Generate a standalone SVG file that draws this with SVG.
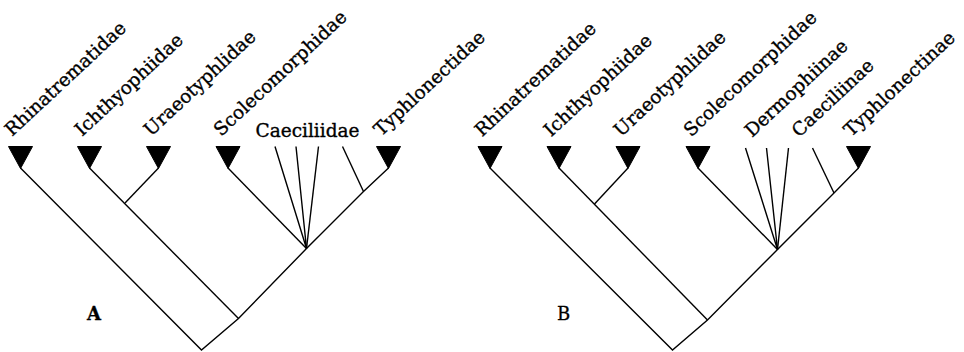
<svg xmlns="http://www.w3.org/2000/svg" width="964" height="352" viewBox="0 0 964 352">
<style>
.bg{fill:#fff}
.tri{fill:#000;stroke:#000;stroke-width:1}
.br{fill:none;stroke:#000;stroke-width:1.4;stroke-linejoin:miter}
.lab{font-family:"DejaVu Serif","Liberation Serif",serif;font-size:18.5px;fill:#000;stroke:#000;stroke-width:0.35}
.pl{font-family:"DejaVu Serif","Liberation Serif",serif;font-size:18px;fill:#000;stroke:#000;stroke-width:0.3}
</style>
<defs>
<polygon id="tri" points="-12,0 12,0 0,22"/>
</defs>
<rect class="bg" width="964" height="352"/>
<g id="treeA">
<g id="connectorsA">
<polyline class="br" points="20.5,168 201.5,350 238.5,318.5 306.5,248.5 363.5,191.5 388.5,168"/>
<polyline class="br" points="89.5,168 238.5,318.5"/>
<polyline class="br" points="158.5,168 125,203"/>
<polyline class="br" points="228,168 306.5,248.5"/>
<polyline class="br" points="275,146.5 306.5,248.5 296,146.5"/>
<polyline class="br" points="318.5,146.5 306.5,248.5"/>
<polyline class="br" points="342.5,146.5 363.5,191.5"/>
</g>
<g id="a-rhinatrematidae"><use href="#tri" class="tri" transform="translate(20.5,146.5)"/><text class="lab" transform="translate(12,137) rotate(-43)">Rhinatrematidae</text></g>
<g id="a-ichthyophiidae"><use href="#tri" class="tri" transform="translate(89.5,146.5)"/><text class="lab" transform="translate(82,137) rotate(-43)">Ichthyophiidae</text></g>
<g id="a-uraeotyphlidae"><use href="#tri" class="tri" transform="translate(151,146.5) translate(7.5,0)"/><text class="lab" transform="translate(151,137) rotate(-43)">Uraeotyphlidae</text></g>
<g id="a-scolecomorphidae"><use href="#tri" class="tri" transform="translate(228,146.5)"/><text class="lab" transform="translate(221,137) rotate(-43)">Scolecomorphidae</text></g>
<g id="a-caeciliidae"><text class="lab" x="255.5" y="136.5" textLength="104" lengthAdjust="spacingAndGlyphs">Caeciliidae</text></g>
<g id="a-typhlonectidae"><use href="#tri" class="tri" transform="translate(388.5,146.5)"/><text class="lab" transform="translate(381,137) rotate(-43)">Typhlonectidae</text></g>
<g id="label-a"><text class="pl" x="87" y="320" font-weight="bold">A</text></g>
</g>
<g id="treeB">
<g id="connectorsB">
<polyline class="br" points="490,168 672.5,350 707.5,320 777.5,249.5 834,193 858.5,168"/>
<polyline class="br" points="559,168 707.5,320"/>
<polyline class="br" points="628,168 594.5,204"/>
<polyline class="br" points="698,168 777.5,249.5"/>
<polyline class="br" points="745.5,148 777.5,249.5 766.5,148"/>
<polyline class="br" points="788.5,148 777.5,249.5"/>
<polyline class="br" points="812.5,148 834,193"/>
</g>
<g id="b-rhinatrematidae"><use href="#tri" class="tri" transform="translate(490,146.5)"/><text class="lab" transform="translate(482,137.5) rotate(-43)">Rhinatrematidae</text></g>
<g id="b-ichthyophiidae"><use href="#tri" class="tri" transform="translate(559,146.5)"/><text class="lab" transform="translate(551,137.5) rotate(-43)">Ichthyophiidae</text></g>
<g id="b-uraeotyphlidae"><use href="#tri" class="tri" transform="translate(628,146.5)"/><text class="lab" transform="translate(621,137.5) rotate(-43)">Uraeotyphlidae</text></g>
<g id="b-scolecomorphidae"><use href="#tri" class="tri" transform="translate(698,146.5)"/><text class="lab" transform="translate(691,137.5) rotate(-43)">Scolecomorphidae</text></g>
<g id="b-dermophiinae"><text class="lab" transform="translate(752,138) rotate(-43)">Dermophiinae</text></g>
<g id="b-caeciliinae"><text class="lab" transform="translate(799,138) rotate(-43)">Caeciliinae</text></g>
<g id="b-typhlonectinae"><use href="#tri" class="tri" transform="translate(858.5,146.5)"/><text class="lab" transform="translate(851,137.5) rotate(-43)">Typhlonectinae</text></g>
<g id="label-b"><text class="pl" x="557" y="320">B</text></g>
</g>
</svg>
